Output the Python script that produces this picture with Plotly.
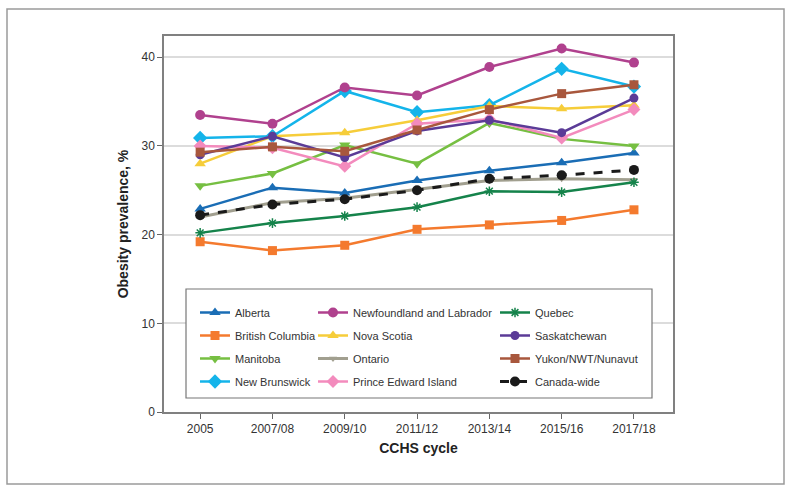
import plotly.graph_objects as go

cycles = ["2005", "2007/08", "2009/10", "2011/12", "2013/14", "2015/16", "2017/18"]

alberta = [22.9, 25.3, 24.7, 26.1, 27.2, 28.1, 29.2]
british_columbia = [19.2, 18.2, 18.8, 20.6, 21.1, 21.6, 22.8]
manitoba = [25.5, 26.9, 30.1, 28.0, 32.6, 30.8, 30.0]
new_brunswick = [30.9, 31.1, 36.2, 33.8, 34.6, 38.7, 36.7]
newfoundland = [33.5, 32.5, 36.6, 35.7, 38.9, 41.0, 39.4]
nova_scotia = [28.0, 31.1, 31.5, 32.9, 34.5, 34.2, 34.6]
ontario = [22.0, 23.6, 24.1, 25.1, 26.1, 26.3, 26.2]
pei = [30.0, 29.8, 27.7, 32.5, 33.0, 30.9, 34.1]
quebec = [20.2, 21.3, 22.1, 23.1, 24.9, 24.8, 25.9]
saskatchewan = [29.0, 31.1, 28.7, 31.7, 32.9, 31.5, 35.4]
yukon = [29.3, 29.9, 29.4, 31.8, 34.1, 35.9, 36.9]
canada = [22.2, 23.4, 24.0, 25.0, 26.3, 26.7, 27.3]

# name, values, color, symbol, size, legend column, dash, width
series = [
    ("Alberta", alberta, "#1a6db5", "triangle-up", 10, "legend", "solid", 2.5),
    ("British Columbia", british_columbia, "#f47a2e", "square", 9, "legend", "solid", 2.5),
    ("Manitoba", manitoba, "#76bf42", "triangle-down", 10, "legend", "solid", 2.5),
    ("New Brunswick", new_brunswick, "#14b4ea", "diamond", 11, "legend", "solid", 2.5),
    ("Newfoundland and Labrador", newfoundland, "#b0418e", "circle", 10, "legend2", "solid", 2.5),
    ("Nova Scotia", nova_scotia, "#f6cd3a", "triangle-up", 10, "legend2", "solid", 2.5),
    ("Ontario", ontario, "#a19f8f", "triangle-down", 7, "legend2", "solid", 3),
    ("Prince Edward Island", pei, "#f38bbd", "diamond", 10, "legend2", "solid", 2.5),
    ("Quebec", quebec, "#15834b", "asterisk-open", 8, "legend3", "solid", 2.5),
    ("Saskatchewan", saskatchewan, "#5b3b97", "circle", 9, "legend3", "solid", 2.5),
    ("Yukon/NWT/Nunavut", yukon, "#a8573d", "square", 9, "legend3", "solid", 2.5),
    ("Canada-wide", canada, "#1a1a1a", "circle", 10, "legend3", "dash", 3),
]

fig = go.Figure()
for name, vals, color, sym, size, leg, dash, w in series:
    marker = dict(symbol=sym, size=size, color=color)
    if sym.startswith("asterisk"):
        marker["line"] = dict(color=color, width=1.5)
    fig.add_trace(go.Scatter(
        x=cycles, y=vals, name=name, mode="lines+markers",
        line=dict(color=color, width=w, dash=dash),
        marker=marker, legend=leg, legendgroup=name,
    ))

W, H = 791, 491
L, R, T, B = 164, 673, 36, 412
pw, ph = R - L, B - T

def px(x):
    return (x - L) / pw

def py(y):
    return (B - y) / ph

FONT = "Liberation Sans, Arial, Helvetica, sans-serif"

legend_common = dict(
    orientation="v", yanchor="top", xanchor="left",
    bgcolor="rgba(0,0,0,0)", borderwidth=0,
    font=dict(family=FONT, size=11, color="#333"),
    tracegroupgap=4, itemwidth=30,
)

fig.update_layout(
    width=W, height=H,
    margin=dict(l=L, r=W - R, t=T, b=H - B, pad=0),
    paper_bgcolor="white", plot_bgcolor="white",
    font=dict(family=FONT, size=12, color="#333"),
    showlegend=True,
    legend=dict(x=px(195), y=py(298), **legend_common),
    legend2=dict(x=px(313), y=py(298), **legend_common),
    legend3=dict(x=px(495), y=py(298), **legend_common),
    xaxis=dict(
        type="category", range=[-0.5, 6.54],
        showline=True, linecolor="#808080", linewidth=1.5, mirror=True,
        ticks="outside", ticklen=5, tickcolor="#666", tickwidth=1,
        showgrid=False, zeroline=False,
        tickfont=dict(size=12, color="#333"),
        title=dict(text="<b>CCHS cycle</b>", font=dict(size=14, color="#222"), standoff=8),
    ),
    yaxis=dict(
        range=[0, 42.4], tickvals=[0, 10, 20, 30, 40],
        showline=True, linecolor="#808080", linewidth=1.5, mirror=True,
        ticks="outside", ticklen=5, tickcolor="#666", tickwidth=1,
        showgrid=True, gridcolor="#dcdcdc", gridwidth=1.5, zeroline=False,
        tickfont=dict(size=12, color="#333"),
        title=dict(text="<b>Obesity prevalence, %</b>", font=dict(size=14, color="#222"), standoff=10),
    ),
    shapes=[
        dict(type="rect", xref="paper", yref="paper",
             x0=px(186), x1=px(652), y0=py(398), y1=py(289),
             line=dict(color="#777", width=1.2), fillcolor="white", layer="above"),
        dict(type="rect", xref="paper", yref="paper",
             x0=px(7), x1=px(784), y0=py(484), y1=py(9),
             line=dict(color="#9a9a9a", width=1.5), fillcolor="rgba(0,0,0,0)", layer="below"),
    ],
)

fig.write_html("out.html", config={"displayModeBar": False},
               post_script="document.body.style.margin='0px';")
